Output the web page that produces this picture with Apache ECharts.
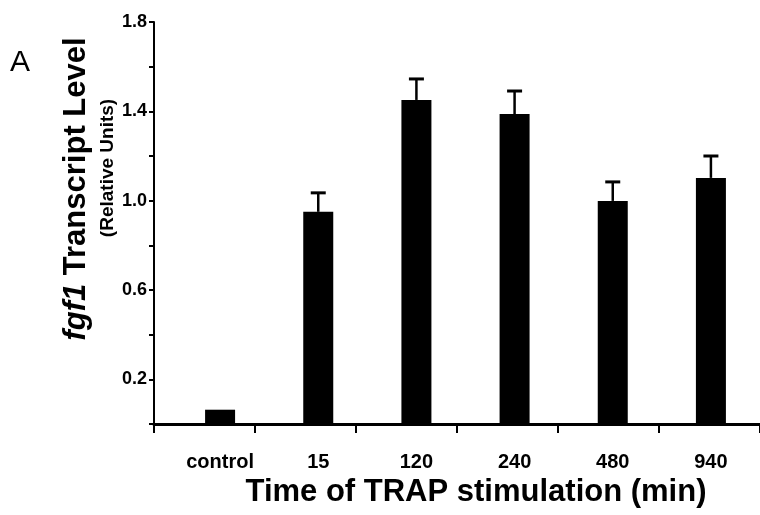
<!DOCTYPE html>
<html>
<head>
<meta charset="utf-8" />
<script src="https://cdn.jsdelivr.net/npm/echarts@6/dist/echarts.min.js"></script>
<style>
  html, body { margin: 0; padding: 0; background: #fff; }
  #fgf1chart { width: 760px; height: 515px; }
</style>
</head>
<body>
<div id="fgf1chart"></div>
<script>
// data
const categories = ["control", "15", "120", "240", "480", "940"];
const levels = [0.064, 0.95, 1.451, 1.388, 0.999, 1.102];
const errors = [0, 0.085, 0.094, 0.103, 0.085, 0.098];
const yTickLabels = ["0.2", "0.6", "1.0", "1.4", "1.8"];

const font = "Liberation Sans, Arial, Helvetica, sans-serif";

let chart = echarts.init(document.getElementById("fgf1chart"));

let option = {
  animation: false,
  grid: [
    // axes frame (ticks between groups)
    { left: 154, right: -2, top: 22, bottom: 91 },
    // bars (shifted inside each group)
    { left: 171, right: -19, top: 22, bottom: 91 },
  ],
  xAxis: [
    {
      type: "category",
      gridIndex: 0,
      data: categories.map(() => ""),
      axisLine: { lineStyle: { color: "#000", width: 3 } },
      axisTick: { show: true, length: 9, lineStyle: { color: "#000", width: 2 } },
      axisLabel: { show: false },
    },
    {
      type: "category",
      gridIndex: 1,
      data: categories,
      axisLine: { show: false },
      axisTick: { show: false },
      axisLabel: {
        color: "#000",
        fontFamily: font,
        fontWeight: "bold",
        fontSize: 20,
        margin: 28,
      },
    },
  ],
  yAxis: [
    {
      type: "value",
      gridIndex: 0,
      min: 0,
      max: 1.8,
      interval: 0.2,
      splitLine: { show: false },
      axisLine: { show: true, lineStyle: { color: "#000", width: 2 } },
      axisTick: { show: true, length: 5, lineStyle: { color: "#000", width: 2 } },
      axisLabel: {
        color: "#000",
        fontFamily: font,
        fontWeight: "bold",
        fontSize: 18,
        margin: 7,
        formatter(v) {
          let s = v.toFixed(1);
          return yTickLabels.indexOf(s) > -1 ? s : "";
        },
      },
    },
    {
      type: "value",
      gridIndex: 1,
      min: 0,
      max: 1.8,
      show: false,
    },
  ],
  series: [
    {
      type: "bar",
      xAxisIndex: 1,
      yAxisIndex: 1,
      barWidth: 30,
      itemStyle: { color: "#000" },
      data: levels,
      z: 2,
    },
    {
      type: "custom",
      xAxisIndex: 1,
      yAxisIndex: 1,
      data: levels.map((v, i) => [i, v, v + errors[i]]),
      renderItem(params, api) {
        if (errors[params.dataIndex] === 0) return;
        let base = api.coord([api.value(0), api.value(1)]);
        let top = api.coord([api.value(0), api.value(2)]);
        return {
          type: "group",
          children: [
            {
              type: "line",
              shape: { x1: top[0], y1: base[1], x2: top[0], y2: top[1] },
              style: { stroke: "#000", lineWidth: 2.5 },
            },
            {
              type: "line",
              shape: { x1: top[0] - 7.5, y1: top[1], x2: top[0] + 7.5, y2: top[1] },
              style: { stroke: "#000", lineWidth: 3 },
            },
          ],
        };
      },
      z: 3,
    },
  ],
  graphic: [
    {
      type: "text",
      left: 10,
      top: 48,
      style: { text: "A", font: "30px " + font, fill: "#000" },
    },
    {
      type: "text",
      x: 76,
      y: 189,
      rotation: Math.PI / 2,
      style: {
        text: "{i|fgf1} Transcript Level",
        fontFamily: font,
        fontWeight: "bold",
        fontSize: 31,
        fill: "#000",
        align: "center",
        verticalAlign: "middle",
        rich: {
          i: { fontFamily: font, fontWeight: "bold", fontStyle: "italic", fontSize: 31, fill: "#000" },
        },
      },
    },
    {
      type: "text",
      x: 108,
      y: 168,
      rotation: Math.PI / 2,
      style: {
        text: "(Relative Units)",
        font: "bold 19px " + font,
        fill: "#000",
        align: "center",
        verticalAlign: "middle",
      },
    },
    {
      type: "text",
      x: 476,
      y: 492,
      style: {
        text: "Time of TRAP stimulation (min)",
        font: "bold 31px " + font,
        fill: "#000",
        align: "center",
        verticalAlign: "middle",
      },
    },
  ],
};

option && chart.setOption(option);
window.addEventListener("resize", function () {
  chart.resize();
});
</script>
</body>
</html>
